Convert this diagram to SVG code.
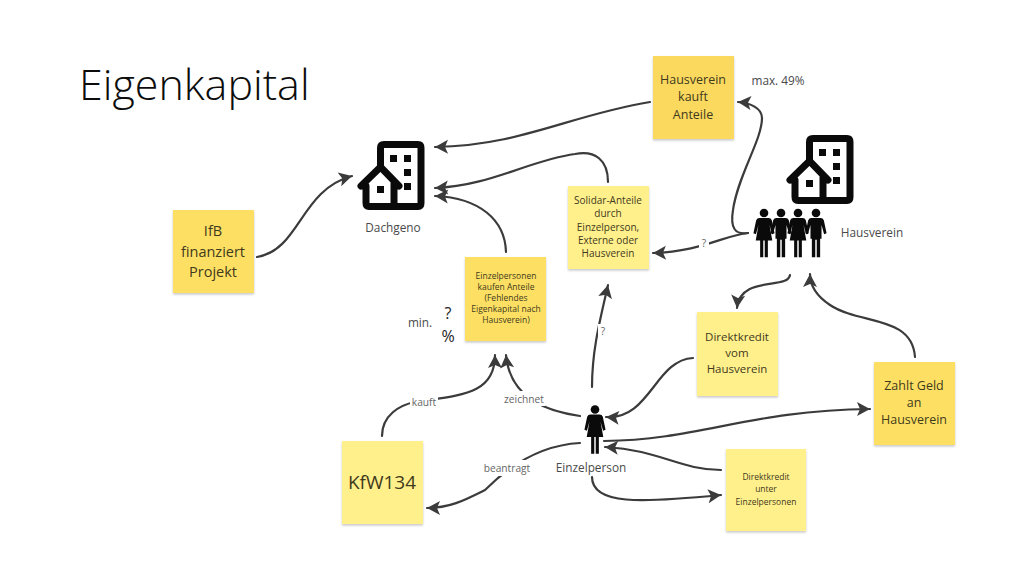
<svg xmlns="http://www.w3.org/2000/svg" width="1024" height="576" viewBox="0 0 1024 576">
<style>
text{font-family:"Open Sans","Noto Sans","Liberation Sans",sans-serif;text-anchor:middle}
.title{font-weight:300;font-size:43px;text-anchor:start;fill:#0c0c0c}
.st{fill:#3f3a1c}
.lbl{fill:#666;font-size:10.2px}
.nl{fill:#4a4a4a;font-size:11.800px}
.c{fill:none;stroke:#3b3b3b;stroke-width:2.200;stroke-linecap:round}
.a{marker-end:url(#ah)}
.pale{fill:#fff08c}
.deep{fill:#fde064}
.deeper{fill:#fbd95f}
.bg{fill:#fff;stroke:none}
</style>
<defs>
<filter id="sh" x="-10%" y="-10%" width="120%" height="120%"><feDropShadow dx="0" dy="1.500" stdDeviation="1.200" flood-color="#000" flood-opacity=".22"/></filter>
<marker id="ah" markerUnits="userSpaceOnUse" markerWidth="16" markerHeight="16" refX="13" refY="7" orient="auto" overflow="visible"><path d="M13,7L0,0L3,7L0,14Z" fill="#3b3b3b"/></marker>
<g id="bld">
<path d="M380.500,165V148Q380.500,144.500 384,144.500H418Q421,144.500 421,148V203Q421,206.500 418,206.500H369Q366,206.500 366,203V186M361,186L380.500,167L399,186M394,183V206" fill="none" stroke="#0a0a0a" stroke-width="7" stroke-linejoin="round" stroke-linecap="round"/>
<path d="M390,155h7v7h-7zM404,155h7v7h-7zM404,169h7v7h-7zM404,183h7v7h-7zM377,186h7v7h-7z" fill="#0a0a0a"/>
</g>
<g id="woman" fill="#0a0a0a">
<circle cx="0" cy="0" r="4.700"/>
<path d="M-5,5.500H5Q7.500,5.500 8.500,8L11.500,22L8.800,23L6,13L9,30H4.200V48H0.800V30H-0.800V48H-4.200V30H-9L-6,13L-8.800,23L-11.500,22L-8.500,8Q-7.500,5.500 -5,5.500Z"/>
</g>
<g id="man" fill="#0a0a0a">
<circle cx="0" cy="0" r="4.700"/>
<path d="M-5,5.500H5Q7.500,5.500 8.500,8L11.500,22L8.800,23L6,13V28H4.500V48H0.800V29H-0.800V48H-4.500V28H-6V13L-8.800,23L-11.500,22L-8.500,8Q-7.500,5.500 -5,5.500Z"/>
</g>
</defs>
<rect width="1024" height="576" fill="#fff"/>
<text class="title" x="79" y="100">Eigenkapital</text>

<g id="connectors">
<path class="c a" d="M257,257C300,250 300,190 352,176"/>
<path class="c a" d="M650,102C570,115 520,146 435,147"/>
<path class="c a" d="M608,182C608,160 595,150 575,154C530,160 490,186 435,188"/>
<path class="c a" d="M506,252C505,220 480,198 435,196"/>
<path class="c a" d="M748,233C735,235 730,228 733,210C738,175 762,140 762,118C762,108 750,103 738,102"/>
<path class="c a" d="M748,233C725,235 700,252 653,253"/>
<path class="c a" d="M790,275C788,290 740,275 737,308"/>
<path class="c a" d="M915,357C912,315 860,325 830,305C815,295 810,285 810,274"/>
<path class="c a" d="M693,358C655,360 650,420 606,417"/>
<path class="c a" d="M592,387C592,350 600,320 608,285"/>
<path class="c a" d="M580,416C550,412 510,400 506,355"/>
<path class="c a" d="M382,436C382,415 400,405 415,402C460,395 495,395 495,355"/>
<path class="c a" d="M580,443C540,445 510,465 485,490C465,500 450,508 427,508"/>
<path class="c a" d="M604,441C700,440 750,410 870,409"/>
<path class="c a" d="M721,470C680,470 660,450 605,447"/>
<path class="c a" d="M592,477C592,505 640,503 721,495"/>
<g id="edge-labels">
<rect class="bg" x="699" y="236" width="10" height="14"/><text class="lbl" x="704" y="247">?</text>
<rect class="bg" x="598" y="324" width="10" height="14"/><text class="lbl" x="603" y="335">?</text>
<rect class="bg" x="410" y="395" width="28" height="15"/><text class="lbl" x="424" y="406">kauft</text>
<rect class="bg" x="503" y="391" width="42" height="15"/><text class="lbl" x="524" y="403">zeichnet</text>
<rect class="bg" x="482" y="460" width="50" height="16"/><text class="lbl" x="507" y="472">beantragt</text>
</g>
</g>

<g id="dachgeno"><use href="#bld"/><text class="nl" x="393" y="232">Dachgeno</text></g>
<g id="hausverein">
<use href="#bld" x="429" y="-6"/>
<use href="#woman" transform="translate(764 213) scale(.92)"/>
<use href="#man" transform="translate(781 213) scale(.92)"/>
<use href="#woman" transform="translate(798 213) scale(.92)"/>
<use href="#man" transform="translate(816 213) scale(.92)"/>
<text class="nl" x="872" y="237">Hausverein</text>
</g>
<g id="einzelperson"><use href="#woman" transform="translate(595 409.500) scale(.92)"/><text class="nl" x="591" y="472">Einzelperson</text></g>

<g id="n-ifb"><rect class="deep" x="173" y="210" width="81" height="83" filter="url(#sh)"/><text class="st" font-size="14.500" x="213" y="236">IfB</text><text class="st" font-size="14.500" x="213" y="257">finanziert</text><text class="st" font-size="14.500" x="213" y="277">Projekt</text></g>
<g id="n-hv-kauft"><rect class="deeper" x="653" y="56" width="81" height="83" filter="url(#sh)"/><text class="st" font-size="12.500" x="693" y="84">Hausverein</text><text class="st" font-size="12.500" x="693" y="101">kauft</text><text class="st" font-size="12.500" x="693" y="119">Anteile</text></g>
<g id="n-solidar"><rect class="pale" x="568" y="186" width="81" height="83" filter="url(#sh)"/><text class="st" font-size="10" x="608" y="204">Solidar-Anteile</text><text class="st" font-size="10" x="608" y="217">durch</text><text class="st" font-size="10" x="608" y="231">Einzelperson,</text><text class="st" font-size="10" x="608" y="244">Externe oder</text><text class="st" font-size="10" x="608" y="257">Hausverein</text></g>
<g id="n-einzel-kauf"><rect class="deep" x="465" y="257" width="81" height="84" filter="url(#sh)"/><text class="st" font-size="8.500" x="506" y="279">Einzelpersonen</text><text class="st" font-size="8.500" x="506" y="290">kaufen Anteile</text><text class="st" font-size="8.500" x="506" y="301">(Fehlendes</text><text class="st" font-size="8.500" x="506" y="312">Eigenkapital nach</text><text class="st" font-size="8.500" x="506" y="323">Hausverein)</text></g>
<g id="n-dk-vom"><rect class="pale" x="697" y="312" width="81" height="84" filter="url(#sh)"/><text class="st" font-size="11.500" x="737" y="341">Direktkredit</text><text class="st" font-size="11.500" x="737" y="357">vom</text><text class="st" font-size="11.500" x="737" y="373">Hausverein</text></g>
<g id="n-zahlt"><rect class="deep" x="874" y="362" width="81" height="83" filter="url(#sh)"/><text class="st" font-size="12.500" x="914" y="390">Zahlt Geld</text><text class="st" font-size="12.500" x="914" y="407">an</text><text class="st" font-size="12.500" x="914" y="424">Hausverein</text></g>
<g id="n-dk-unter"><rect class="pale" x="726" y="449" width="80" height="82" filter="url(#sh)"/><text class="st" font-size="8.500" x="766" y="480">Direktkredit</text><text class="st" font-size="8.500" x="766" y="492">unter</text><text class="st" font-size="8.500" x="766" y="505">Einzelpersonen</text></g>
<g id="n-kfw"><rect class="pale" x="342" y="441" width="81" height="83" filter="url(#sh)"/><text class="st" font-size="19" x="382" y="489">KfW134</text></g>

<text class="nl" x="420" y="327">min.</text>
<text font-size="16" fill="#222" x="448" y="319">?</text>
<text font-size="16" fill="#222" x="448" y="342">%</text>
<text class="nl" x="778" y="85">max. 49%</text>
</svg>
